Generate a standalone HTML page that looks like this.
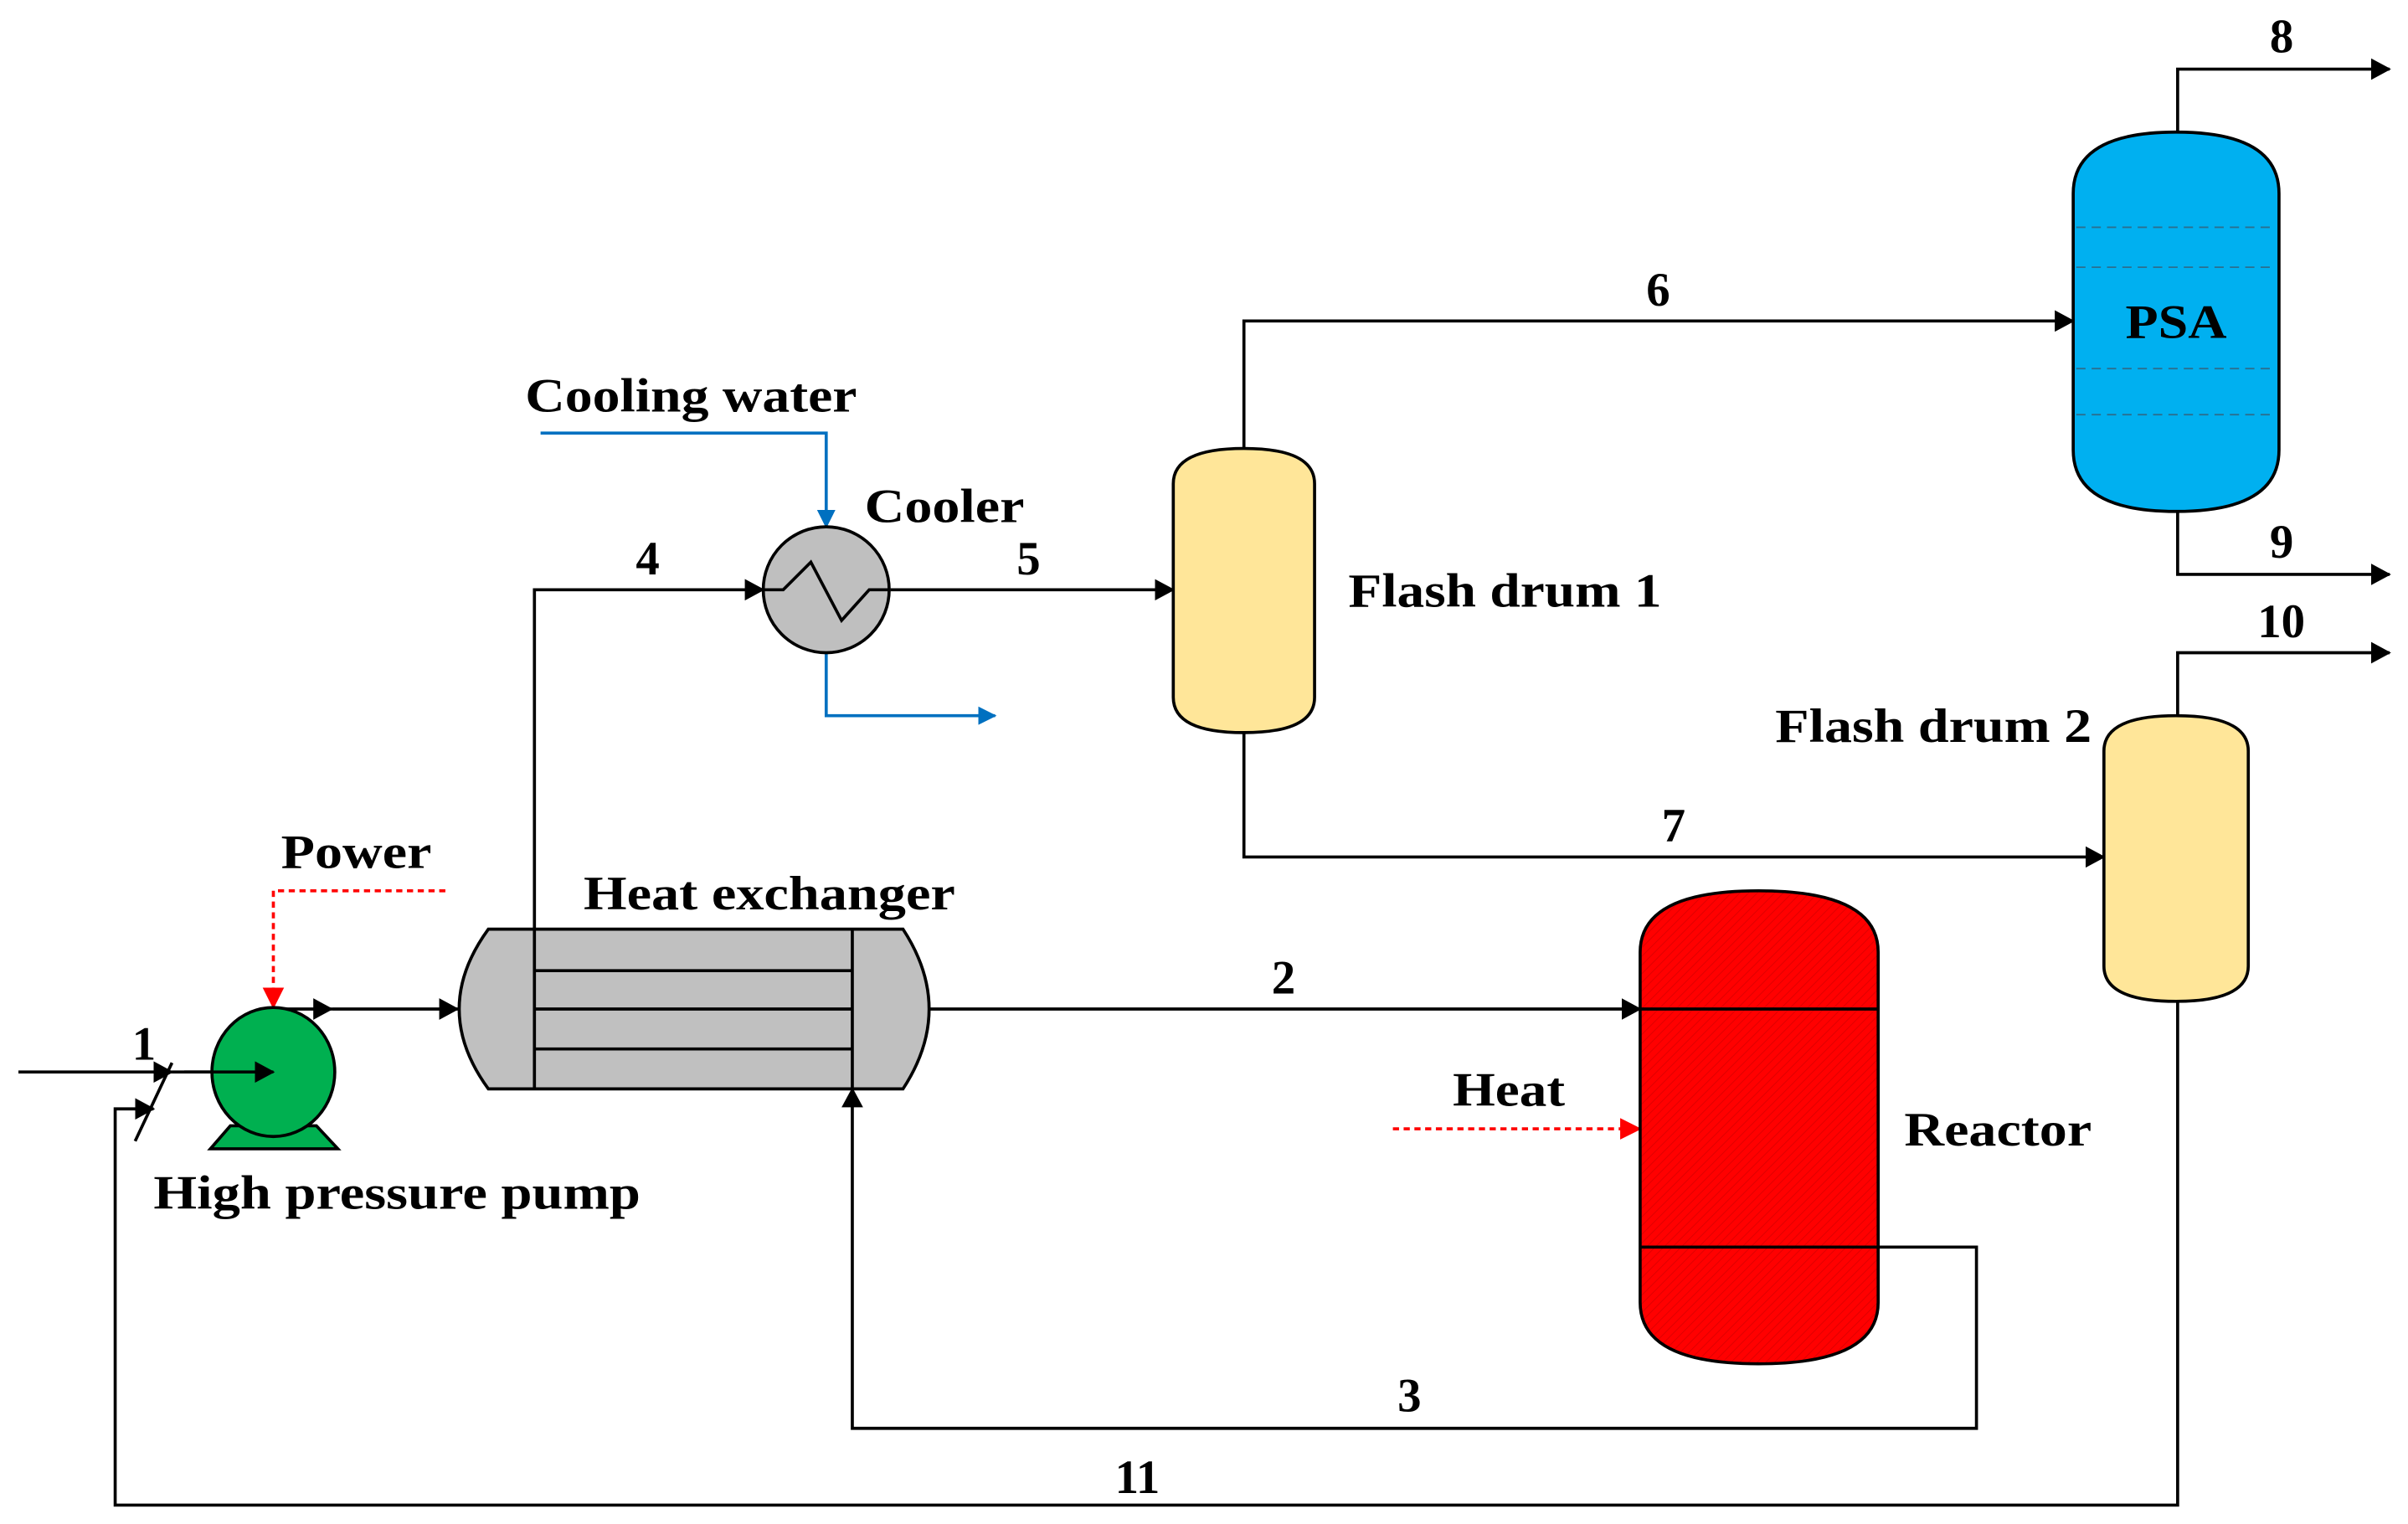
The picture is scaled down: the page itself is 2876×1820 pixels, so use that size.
<!DOCTYPE html>
<html><head><style>html,body{margin:0;padding:0;background:#fff}svg{display:block}
text{font-family:"Liberation Serif",serif;font-weight:bold;font-size:31px;fill:#000}</style></head>
<body>
<svg width="2876" height="1820" viewBox="0 0 1568 992.3" preserveAspectRatio="none" xmlns="http://www.w3.org/2000/svg">
<defs>
<marker id="a" markerWidth="13" markerHeight="14" refX="12" refY="7" orient="auto" markerUnits="userSpaceOnUse"><path d="M0,0 L13,7 L0,14 z" fill="#000"/></marker>
<marker id="ab" markerWidth="12" markerHeight="12" refX="11" refY="6" orient="auto" markerUnits="userSpaceOnUse"><path d="M0,0 L12,6 L0,12 z" fill="#0070C0"/></marker>
<marker id="ar" markerWidth="14" markerHeight="14" refX="13" refY="7" orient="auto" markerUnits="userSpaceOnUse"><path d="M0,0 L14,7 L0,14 z" fill="#f00"/></marker>
<pattern id="h" width="4" height="4" patternUnits="userSpaceOnUse" patternTransform="rotate(45)"><rect width="4" height="4" fill="#f00"/><line x1="0" y1="0" x2="0" y2="4" stroke="#d00" stroke-width="1"/></pattern>
</defs>
<g fill="none" stroke="#000" stroke-width="2">
<path d="M12,698 L112,698" marker-end="url(#a)"/>
<path d="M112,698 L178,698" marker-end="url(#a)"/>
<path d="M1418,650 L1418,980 L75,980 L75,722 L100,722" marker-end="url(#a)"/>
<path d="M88,743 L112,692"/>
<path d="M178,657 L216,657" marker-end="url(#a)"/>
<path d="M216,657 L298,657" marker-end="url(#a)"/>
<path d="M348,605 L348,384 L497,384" marker-end="url(#a)"/>
<path d="M580,384 L764,384" marker-end="url(#a)"/>
<path d="M810,292 L810,209 L1350,209" marker-end="url(#a)"/>
<path d="M1418,86 L1418,45 L1556,45" marker-end="url(#a)"/>
<path d="M1418,333 L1418,374 L1556,374" marker-end="url(#a)"/>
<path d="M1418,466 L1418,425 L1556,425" marker-end="url(#a)"/>
<path d="M810,477 L810,558 L1370,558" marker-end="url(#a)"/>
<path d="M606,657 L1068,657" marker-end="url(#a)"/>
<path d="M1223,812 L1287,812 L1287,930 L555,930 L555,709" marker-end="url(#a)"/>
</g>
<g fill="none" stroke="#0070C0" stroke-width="2">
<path d="M352,282 L538,282 L538,343" marker-end="url(#ab)"/>
<path d="M538,425 L538,466 L648,466" marker-end="url(#ab)"/>
</g>
<g fill="none" stroke="#f00" stroke-width="2" stroke-dasharray="4,3">
<path d="M290,580 L178,580 L178,656" marker-end="url(#ar)"/>
<path d="M907,735 L1068,735" marker-end="url(#ar)"/>
</g>
<path d="M137,748 L150,733 L206,733 L220,748 Z" fill="#00B050" stroke="#000" stroke-width="2"/>
<ellipse cx="178" cy="698" rx="40" ry="42" fill="#00B050" stroke="#000" stroke-width="2"/>
<path d="M120,698 L178,698" stroke="#000" stroke-width="2" marker-end="url(#a)"/>
<path d="M318,605 L588,605 Q622,657 588,709 L318,709 Q280,657 318,605 Z" fill="#C0C0C0" stroke="#000" stroke-width="2"/>
<g stroke="#000" stroke-width="2"><line x1="348" y1="605" x2="348" y2="709"/><line x1="555" y1="605" x2="555" y2="709"/>
<line x1="348" y1="632" x2="555" y2="632"/><line x1="348" y1="657" x2="555" y2="657"/><line x1="348" y1="683" x2="555" y2="683"/></g>
<circle cx="538" cy="384" r="41" fill="#BFBFBF" stroke="#000" stroke-width="2"/>
<path d="M497,384 L510,384 L528,366 L548,404 L566,384 L580,384" fill="none" stroke="#000" stroke-width="2"/>
<path d="M764,315 Q764,292 810,292 Q856,292 856,315 L856,454 Q856,477 810,477 Q764,477 764,454 Z" fill="#FFE699" stroke="#000" stroke-width="2"/>
<path d="M1370,489 Q1370,466 1417,466 Q1464,466 1464,489 L1464,629 Q1464,652 1417,652 Q1370,652 1370,629 Z" fill="#FFE699" stroke="#000" stroke-width="2"/>
<path d="M1350,126 Q1350,86 1417,86 Q1484,86 1484,126 L1484,293 Q1484,333 1417,333 Q1350,333 1350,293 Z" fill="#00B0F0" stroke="#000" stroke-width="2"/>
<g stroke="#2a6f8f" stroke-width="1" stroke-dasharray="6,4"><line x1="1352" y1="148" x2="1482" y2="148"/><line x1="1352" y1="174" x2="1482" y2="174"/><line x1="1352" y1="240" x2="1482" y2="240"/><line x1="1352" y1="270" x2="1482" y2="270"/></g>
<path d="M1068,620 Q1068,580 1145,580 Q1223,580 1223,620 L1223,848 Q1223,888 1145,888 Q1068,888 1068,848 Z" fill="url(#h)" stroke="#000" stroke-width="2"/>
<g stroke="#000" stroke-width="2"><line x1="1068" y1="657" x2="1223" y2="657"/><line x1="1068" y1="812" x2="1223" y2="812"/></g>
<text x="342" y="268" textLength="216" lengthAdjust="spacingAndGlyphs">Cooling water</text>
<text x="563" y="340" textLength="104" lengthAdjust="spacingAndGlyphs">Cooler</text>
<text x="878" y="395" textLength="204" lengthAdjust="spacingAndGlyphs">Flash drum 1</text>
<text x="1156" y="483" textLength="206" lengthAdjust="spacingAndGlyphs">Flash drum 2</text>
<text x="183" y="565" textLength="98" lengthAdjust="spacingAndGlyphs">Power</text>
<text x="380" y="592" textLength="242" lengthAdjust="spacingAndGlyphs">Heat exchanger</text>
<text x="100" y="787" textLength="317" lengthAdjust="spacingAndGlyphs">High pressure pump</text>
<text x="946" y="720" textLength="73" lengthAdjust="spacingAndGlyphs">Heat</text>
<text x="1240" y="746" textLength="122" lengthAdjust="spacingAndGlyphs">Reactor</text>
<text x="1384" y="220" textLength="66" lengthAdjust="spacingAndGlyphs">PSA</text>
<text x="86" y="690">1</text>
<text x="828" y="647">2</text>
<text x="910" y="919">3</text>
<text x="414" y="374">4</text>
<text x="662" y="374">5</text>
<text x="1072" y="199">6</text>
<text x="1082" y="548">7</text>
<text x="1478" y="34">8</text>
<text x="1478" y="363">9</text>
<text x="1470" y="415">10</text>
<text x="726" y="972">11</text>
</svg>
</body></html>
